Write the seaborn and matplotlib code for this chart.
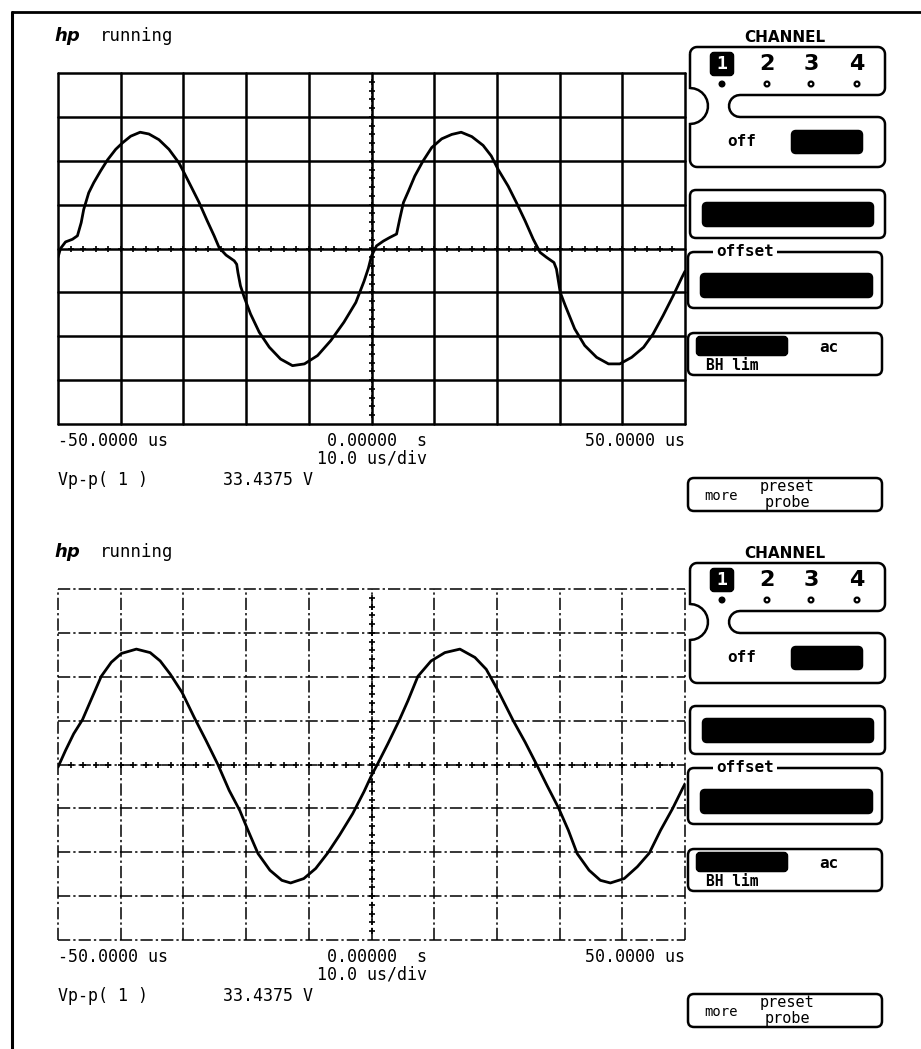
import numpy as np
import matplotlib
matplotlib.use("Agg")
import matplotlib.pyplot as plt
import seaborn as sns
from matplotlib.patches import FancyBboxPatch, PathPatch, Circle
from matplotlib.path import Path

# traces: time in us, level in vertical divisions
t_top = [-50.0, -49.6, -48.8, -47.7, -46.9, -46.3, -45.9, -45.1, -44.3, -43.2, -42.1,
         -40.8, -39.7, -38.4, -36.9, -35.5, -33.9, -32.3, -30.7, -29.9, -28.8, -27.5,
         -26.2, -25.1, -24.3, -23.2, -21.9, -21.5, -21.3, -20.9, -20.3, -19.3, -17.9,
         -16.3, -14.5, -12.6, -10.7, -8.6, -6.5, -4.4, -2.5, -1.2, -0.5, 0.0, 0.8,
         1.9, 2.9, 4.0, 4.5, 5.1, 5.9, 6.9, 8.2, 9.6, 11.2, 12.8, 14.3, 16.0, 17.8,
         19.1, 20.2, 21.8, 23.1, 24.5, 25.8, 26.9, 27.9, 29.1, 29.5, 30.1, 30.9, 32.4,
         34.0, 35.9, 37.8, 39.6, 41.5, 43.4, 44.9, 46.5, 48.1, 49.5, 50.0]
v_top = [-0.20, 0.0, 0.15, 0.21, 0.29, 0.59, 0.89, 1.27, 1.50, 1.77, 2.02,
         2.26, 2.41, 2.56, 2.65, 2.61, 2.48, 2.26, 1.95, 1.73, 1.42, 1.05,
         0.63, 0.29, 0.02, -0.15, -0.28, -0.36, -0.55, -0.85, -1.11, -1.49, -1.91,
         -2.25, -2.52, -2.67, -2.63, -2.44, -2.10, -1.68, -1.23, -0.75, -0.45, -0.17, 0.06,
         0.17, 0.25, 0.33, 0.67, 1.05, 1.31, 1.65, 1.99, 2.30, 2.50, 2.60, 2.65, 2.55, 2.35,
         2.11, 1.80, 1.42, 1.05, 0.63, 0.21, -0.09, -0.20, -0.32, -0.47, -1.00, -1.30, -1.83,
         -2.21, -2.48, -2.63, -2.63, -2.48, -2.25, -1.95, -1.53, -1.08, -0.66, -0.52]

t_bot = [-50.0, -48.8, -47.5, -46.1, -44.8, -43.1, -41.5, -39.9, -37.5, -35.3, -33.7,
         -32.1, -30.2, -28.3, -26.4, -24.5, -22.7, -21.0, -19.7, -18.1, -16.2, -14.3,
         -12.9, -10.8, -8.9, -7.0, -5.1, -3.0, -1.2, 0.0, 1.0, 2.6, 4.4, 5.8, 7.4,
         9.5, 11.7, 14.1, 16.5, 18.3, 20.2, 22.6, 24.5, 26.4, 28.0, 29.8, 31.4, 32.8,
         34.7, 36.5, 38.1, 40.3, 42.4, 44.3, 46.1, 48.0, 49.6, 50.0]
v_bot = [-0.06, 0.32, 0.70, 1.02, 1.45, 2.01, 2.33, 2.53, 2.63, 2.55, 2.36,
         2.06, 1.64, 1.08, 0.55, 0.0, -0.59, -1.05, -1.50, -2.03, -2.41, -2.64,
         -2.70, -2.60, -2.37, -2.02, -1.61, -1.12, -0.62, -0.25, 0.02, 0.47, 1.0, 1.45, 2.01,
         2.36, 2.55, 2.63, 2.44, 2.17, 1.68, 1.0, 0.51, -0.02, -0.48, -0.98, -1.50, -2.03,
         -2.41, -2.64, -2.70, -2.60, -2.33, -2.02, -1.50, -1.01, -0.55, -0.44]

time_labels = ["-50.0000 us", "0.00000  s", "50.0000 us"]
timebase = "10.0 us/div"
meas_name = "Vp-p( 1 )"
meas_value = "33.4375 V"
channels = ["1", "2", "3", "4"]

sns.set_theme(style="white")
plt.rcParams["font.family"] = ["DejaVu Sans Mono", "DejaVu Sans"]
plt.rcParams["text.color"] = "black"

W, H = 921, 1049
fig = plt.figure(figsize=(W / 100, H / 100), dpi=100)
bg = fig.add_axes([0, 0, 1, 1])
bg.set_xlim(0, W)
bg.set_ylim(H, 0)
bg.axis("off")

# outer frame of the page
bg.plot([12, W], [12, 12], color="black", lw=2)
bg.plot([12, 12], [12, H], color="black", lw=2.2)


def arc(cx, cy, r, a0, a1, n=8):
    a = np.radians(np.linspace(a0, a1, n))
    return list(zip(cx + r * np.cos(a), cy + r * np.sin(a)))


def rbox(x0, y0, x1, y1, fill=False, r=6, lw=1.8):
    p = FancyBboxPatch((x0 + r, y0 + r), x1 - x0 - 2 * r, y1 - y0 - 2 * r,
                       boxstyle="round,pad=%d" % r, lw=lw, ec="black",
                       fc="black" if fill else "none")
    bg.add_patch(p)


def draw_panel(oy):
    # channel selector + off box, joined by a neck on the left
    r = 7
    pts = []
    pts += arc(690 + r, oy + 47 + r, r, 180, 270)
    pts += arc(885 - r, oy + 47 + r, r, 270, 360)
    pts += arc(885 - r, oy + 95 - r, r, 0, 90)
    pts += arc(740, oy + 106, 11, 270, 90, 12)
    pts += arc(885 - r, oy + 117 + r, r, 270, 360)
    pts += arc(885 - r, oy + 167 - r, r, 0, 90)
    pts += arc(690 + r, oy + 167 - r, r, 90, 180)
    pts += arc(690, oy + 106, 18, 90, -90, 14)
    pts.append(pts[0])
    bg.add_patch(PathPatch(Path(pts), fc="none", ec="black", lw=1.8))

    bg.text(785, oy + 37, "CHANNEL", ha="center", va="center",
            fontsize=11, fontweight="bold", family="DejaVu Sans")
    xs = [722, 767, 811, 857]
    for i, (lab, x) in enumerate(zip(channels, xs)):
        if i == 0:
            rbox(711, oy + 53, 733, oy + 75, fill=True, r=3)
            bg.text(x, oy + 64, lab, ha="center", va="center", color="white",
                    fontsize=13, fontweight="bold")
            bg.add_patch(Circle((x, oy + 84), 2.8, fc="black", ec="black"))
        else:
            bg.text(x, oy + 64, lab, ha="center", va="center",
                    fontsize=16, fontweight="bold", family="DejaVu Sans")
            bg.add_patch(Circle((x, oy + 84), 2.4, fc="white", ec="black", lw=1.6))

    bg.text(727, oy + 142, "off", ha="left", va="center", fontsize=11.5, fontweight="bold")
    rbox(792, oy + 131, 862, oy + 153, fill=True, r=4)

    rbox(690, oy + 190, 885, oy + 238)
    rbox(703, oy + 203, 873, oy + 226, fill=True, r=4)

    rbox(688, oy + 252, 882, oy + 308)
    bg.text(745, oy + 252, "offset", ha="center", va="center", fontsize=11.5,
            fontweight="bold", bbox=dict(fc="white", ec="none", pad=2))
    rbox(701, oy + 274, 872, oy + 297, fill=True, r=4)

    rbox(688, oy + 333, 882, oy + 375)
    rbox(697, oy + 337, 787, oy + 355, fill=True, r=3)
    bg.text(829, oy + 347, "ac", ha="center", va="center", fontsize=11.5, fontweight="bold")
    bg.text(706, oy + 365, "BH lim", ha="left", va="center", fontsize=10.5, fontweight="bold")

    rbox(688, oy + 478, 882, oy + 511)
    bg.text(704, oy + 496, "more", ha="left", va="center", fontsize=10)
    bg.text(787, oy + 487, "preset", ha="center", va="center", fontsize=11)
    bg.text(787, oy + 503, "probe", ha="center", va="center", fontsize=11)

    bg.text(54, oy + 36, "hp", ha="left", va="center", fontsize=13,
            fontstyle="italic", fontweight="bold", family="DejaVu Sans")
    bg.text(100, oy + 36, "running", ha="left", va="center", fontsize=12.5)


def draw_screen(oy, t, v, dashed):
    ax = fig.add_axes([58 / W, 1 - (424 + oy) / H, 627 / W, 351 / H])
    ax.set_xlim(-50, 50)
    ax.set_ylim(-4, 4)
    ax.set_xticks([])
    ax.set_yticks([])
    for s in ax.spines.values():
        s.set_visible(False)
    ax.patch.set_alpha(0)

    ls = (0, (8, 2, 1.5, 2)) if dashed else "-"
    lw = 1.1 if dashed else 1.8
    for xv in np.arange(-50, 51, 10):
        ax.axvline(xv, color="black", lw=lw, ls=ls, clip_on=False)
    for yv in np.arange(-4, 5, 1):
        ax.axhline(yv, color="black", lw=lw, ls=ls, clip_on=False)
    tx = np.arange(-48, 49, 2)
    ax.plot(tx, np.zeros(len(tx)), "+", color="black", ms=5, mew=1.2)
    ty = np.arange(-3.8, 3.81, 0.2)
    ax.plot(np.zeros(len(ty)), ty, "+", color="black", ms=5, mew=1.2)

    sns.lineplot(x=t, y=v, ax=ax, color="black", lw=2.0, sort=False, estimator=None)

    tr = ax.get_xaxis_transform()
    fs = 12
    ax.text(-50, -0.048, time_labels[0], transform=tr, ha="left", va="center", fontsize=fs)
    ax.text(8.8, -0.048, time_labels[1], transform=tr, ha="right", va="center", fontsize=fs)
    ax.text(50, -0.048, time_labels[2], transform=tr, ha="right", va="center", fontsize=fs)
    ax.text(8.8, -0.097, timebase, transform=tr, ha="right", va="center", fontsize=fs)
    ax.text(0.0, -0.16, meas_name, transform=ax.transAxes, ha="left", va="center", fontsize=fs)
    ax.text(0.263, -0.16, meas_value, transform=ax.transAxes, ha="left", va="center", fontsize=fs)


for oy, t, v, dashed in [(0, t_top, v_top, False), (516, t_bot, v_bot, True)]:
    draw_panel(oy)
    draw_screen(oy, t, v, dashed)

fig.savefig("out.png", dpi=100, facecolor="white")
